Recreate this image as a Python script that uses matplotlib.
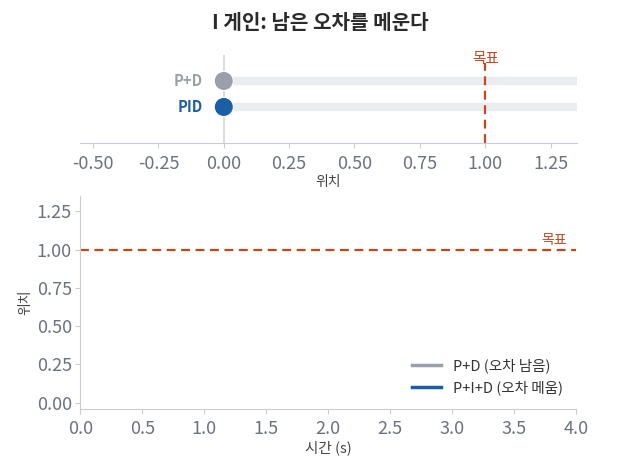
import matplotlib
matplotlib.use("Agg")
import matplotlib.pyplot as plt

plt.rcParams['font.family'] = ['Noto Sans CJK KR', 'DejaVu Sans']

# data
controllers = ["P+D", "PID"]
positions = [0.0, 0.0]
target = 1.0
time_s = [0.0]
pos_pd = [0.0]
pos_pid = [0.0]
legend_labels = ["P+D (오차 남음)", "P+I+D (오차 메움)"]
title = "I 게인: 남은 오차를 메운다"
top_ticks = [-0.5, -0.25, 0, 0.25, 0.5, 0.75, 1.0, 1.25]
bot_xticks = [0, 0.5, 1, 1.5, 2, 2.5, 3, 3.5, 4]
bot_yticks = [0, 0.25, 0.5, 0.75, 1.0, 1.25]

GRAY = "#9aa0aa"
BLUE = "#1a5ea6"
TARGET = "#c4461a"
TICK = "#6b7280"
SPINE = "#c9ccd4"
TRACK = "#e9edf0"
TICKSIZE = 13

fig = plt.figure(figsize=(6.4, 4.59), dpi=100)
W, H = 640, 459

def ax_rect(l, t, r, b):
    return [l / W, 1 - b / H, (r - l) / W, (b - t) / H]

ax1 = fig.add_axes(ax_rect(80, 55, 576.7, 143.3))
ax2 = fig.add_axes(ax_rect(80.3, 196, 576, 408.7))

# top panel
ypos = [1, 0]
ax1.set_xlim(-0.55, 1.35)
ax1.set_ylim(-1.4, 2.0)
ax1.axvline(0, color="#d3d6dc", lw=1.2, zorder=1)
ax1.hlines(ypos, positions, 1.35, color=TRACK, lw=6, zorder=1)
ax1.scatter(positions, ypos, s=190, c=[GRAY, BLUE], zorder=3, edgecolors="white", linewidths=0.8)
for name, p, y, c in zip(controllers, positions, ypos, [GRAY, BLUE]):
    ax1.annotate(name, xy=(p, y), xytext=(-15, 0), textcoords="offset points",
                 ha="right", va="center", fontsize=10.5, fontweight="bold", color=c)
ax1.vlines(target, -1.4, 1.7, colors=TARGET, linestyles=(0, (4, 2.5)), lw=1.6, zorder=2)
ax1.text(target, 1.84, "목표", color=TARGET, fontsize=10.5, ha="center", va="center")
ax1.set_yticks([])
ax1.set_xticks(top_ticks)
ax1.set_xticklabels([f"{v:.2f}" for v in top_ticks])
ax1.tick_params(axis="x", colors=SPINE, labelcolor=TICK, labelsize=TICKSIZE, length=3.5, pad=5)
ax1.set_xlabel("위치", fontsize=10, color="#444444", labelpad=1.5)
for s in ["top", "right", "left"]:
    ax1.spines[s].set_visible(False)
ax1.spines["bottom"].set_color(SPINE)

# bottom panel
ax2.set_xlim(0, 4)
ax2.set_ylim(-0.04, 1.35)
ax2.axhline(target, color=TARGET, ls=(0, (4, 2.5)), lw=1.6, zorder=1)
ax2.text(3.93, 1.015, "목표", color=TARGET, fontsize=10, ha="right", va="bottom")
ax2.plot(time_s, pos_pd, color=GRAY, lw=2.5, label=legend_labels[0])
ax2.plot(time_s, pos_pid, color=BLUE, lw=2.5, label=legend_labels[1])
ax2.set_xticks(bot_xticks)
ax2.set_xticklabels([f"{v:.1f}" for v in bot_xticks])
ax2.set_yticks(bot_yticks)
ax2.set_yticklabels([f"{v:.2f}" for v in bot_yticks])
ax2.tick_params(axis="x", colors=SPINE, labelcolor=TICK, labelsize=TICKSIZE, length=3.5, pad=4.5)
ax2.tick_params(axis="y", colors=SPINE, labelcolor=TICK, labelsize=TICKSIZE, length=3.5, pad=2.5)
ax2.set_xlabel("시간 (s)", fontsize=10.5, color="#444444", labelpad=2)
ax2.set_ylabel("위치", fontsize=10, color="#444444", labelpad=3)
for s in ["top", "right"]:
    ax2.spines[s].set_visible(False)
for s in ["left", "bottom"]:
    ax2.spines[s].set_color(SPINE)
leg = ax2.legend(loc="lower right", frameon=False, fontsize=10.5, handlelength=2.0)
for t in leg.get_texts():
    t.set_color("#333333")

fig.text(0.5, 0.95, title, ha="center", va="center", fontsize=14.5, fontweight="bold", color="#2a2a2a")

fig.savefig("out.png", dpi=100)
